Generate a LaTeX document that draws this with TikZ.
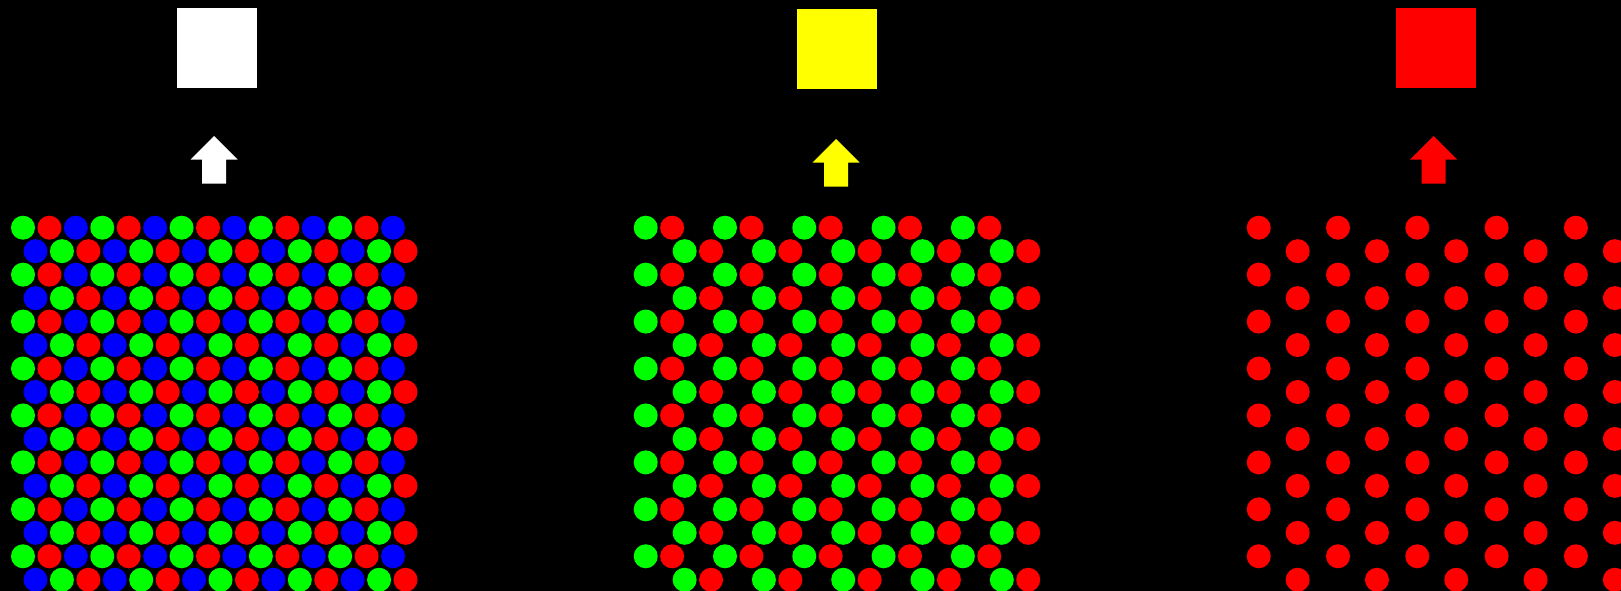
\documentclass[tikz,border=0pt]{standalone}
\usepackage{tikz}
\usetikzlibrary{calc}

\definecolor{subgreen}{RGB}{0,255,0}
\definecolor{subred}{RGB}{255,0,0}
\definecolor{subblue}{RGB}{0,0,255}
\definecolor{subyellow}{RGB}{255,255,0}

% block arrow pointing up, tip at #2
\newcommand{\uparrowat}[2]{%
  \fill[#1] (#2) -- ++(23.5,23.5) -- ++(-11.5,0) -- ++(0,24) -- ++(-24,0)
    -- ++(0,-24) -- ++(-11.5,0) -- cycle;
}

\begin{document}
\begin{tikzpicture}[
    x=1pt, y=-1pt, % pixel units, y downwards
    swatch/.style={inner sep=0pt, minimum size=80pt} % colour squares on top
]

% Frame
\useasboundingbox (0,0) rectangle (1621,591);
\fill[black] (0,0) rectangle (1621,591);
\clip (0,0) rectangle (1621,591);

% Lattice parameters
\def\dx{26.43}     % spacing along a row
\def\dy{23.47}     % spacing between rows
\def\shift{12.5}   % offset of every second row
\def\ytop{227.7}   % first row
\def\rad{12pt}     % subpixel radius
\def\xleft{23}     % RGB panel
\def\xmid{645.7}   % green + red panel
\def\xright{1232.3}% red panel

% Subpixels
\foreach \r in {0,...,15}{
  \pgfmathsetmacro{\p}{int(mod(\r,2))}
  \foreach \i in {0,...,14}{
    \pgfmathsetmacro{\k}{int(mod(\i+3-\p,3))}
    \pgfmathsetmacro{\xx}{\i*\dx+\p*\shift}
    \pgfmathsetmacro{\yy}{\ytop+\r*\dy}
    \ifcase\k \def\col{subgreen}\or \def\col{subred}\or \def\col{subblue}\fi
    \fill[\col] (\xleft+\xx,\yy) circle (\rad);
    \ifnum\k<2 \fill[\col] (\xmid+\xx,\yy) circle (\rad);\fi
    \ifnum\k=1 \fill[subred] (\xright+\xx,\yy) circle (\rad);\fi
  }
}

% Resulting colours
\node[swatch, fill=white] (white) at (217,48) {};
\node[swatch, fill=subyellow] (yellow) at (837,49) {};
\node[swatch, fill=subred] (red) at (1436,48) {};

% Arrows
\coordinate (tipw) at (214,136);
\coordinate (tipy) at (836,139);
\coordinate (tipr) at (1433.5,136);
\uparrowat{white}{tipw}
\uparrowat{subyellow}{tipy}
\uparrowat{subred}{tipr}

\end{tikzpicture}
\end{document}
